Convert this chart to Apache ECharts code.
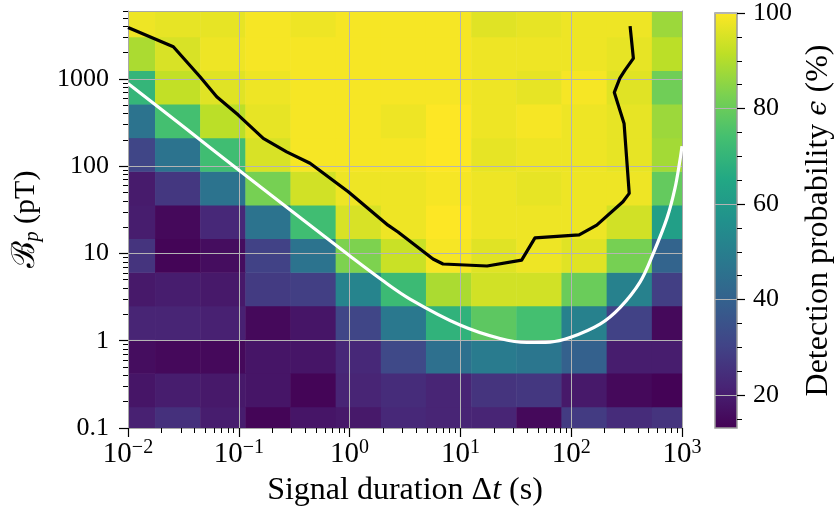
<!DOCTYPE html>
<html>
<head>
<meta charset="utf-8">
<script src="https://cdn.jsdelivr.net/npm/echarts@6/dist/echarts.min.js"></script>
<style>
  html, body { margin: 0; padding: 0; background: #ffffff; }
  #chart { width: 837px; height: 519px; }
</style>
</head>
<body>
<div id="chart"></div>
<script>
// Bin edges of the detection-probability map
const durationEdges = [0.00685, 0.01754, 0.04477, 0.1146, 0.2924, 0.7482, 1.914, 4.887, 12.50, 31.99, 81.66, 208.9, 534.6, 1365]; // s
const fieldEdges = [0.0723, 0.1754, 0.4256, 1.035, 2.512, 6.095, 14.83, 35.97, 87.3, 212.3, 515.2, 1250, 3041, 7379]; // pT

// Detection probability (%), one row per field bin, lowest field first,
// one column per duration bin, shortest first
const probability = [
  [21, 25, 20, 14, 18, 19, 23, 22, 22, 15, 28, 24, 26],
  [18, 20, 19, 18, 14, 22, 24, 22, 26, 27, 19, 15, 13.5],
  [16, 15, 15, 18, 18, 23, 32, 45, 49, 47, 40, 20, 20],
  [22, 22, 21, 15, 18, 31, 48, 69, 78, 74, 51, 30, 15],
  [19, 20, 19, 28, 29, 52, 72, 89, 94, 94, 80, 51, 29],
  [26, 14, 16, 30, 46, 83, 93, 99, 96, 98, 96, 82, 41],
  [20, 15, 23, 46, 73, 95, 98, 100, 98, 98, 98, 94, 62],
  [19.5, 27, 46, 82, 94, 98, 98, 99, 98, 97, 98, 98, 79],
  [31, 46, 73, 95, 99, 99, 99, 100, 97, 98, 98, 97, 88],
  [46, 74, 91, 97, 99, 99, 98, 100, 98, 99, 98, 97, 87],
  [70, 92, 96, 98, 99, 99, 99, 99, 98, 97, 99, 96, 81],
  [89, 95, 98, 99, 99, 99, 99, 99, 98, 98, 98, 97, 91],
  [98, 97, 97, 99, 98, 99, 99, 99, 96, 97, 98, 98, 87]
];

// 95 % detection contour: [duration (s), field (pT)]
const contour95 = [
  [0.01, 3890], [0.02565, 2333], [0.04467, 1057], [0.0632, 624], [0.099, 385],
  [0.1663, 208], [0.2704, 146], [0.4395, 108], [0.973, 50.9], [1.88, 25.2],
  [2.22, 21.1], [2.735, 17.6], [5.66, 8.63], [6.97, 7.57], [17.4, 7.18],
  [35.7, 8.40], [47.1, 15.1], [118, 16.3], [170, 21.1], [293, 39.1],
  [334, 48.8], [300, 309], [245, 700], [275, 1021], [306, 1262],
  [364, 1718], [340, 4027]
];

// Expected sensitivity curve: [duration (s), field (pT)]
const sensitivity = [
  [0.01, 888], [0.03135, 286], [0.0984, 91.4], [0.3567, 25.8], [1.008, 9.33],
  [1.961, 4.96], [3.509, 3.004], [9.92, 1.513], [22.78, 1.06], [39.9, 0.954],
  [64.4, 0.966], [97.5, 1.088], [181.9, 1.553], [275.7, 2.40], [417.8, 4.70],
  [547.3, 9.84], [732, 25.4], [864.8, 56.1], [959, 117.5], [1000, 169.8]
];

// Axis ticks
const durationTicks = [0.01, 0.1, 1, 10, 100, 1000];
const fieldTicks = [0.1, 1, 10, 100, 1000];
const colorTicks = [20, 40, 60, 80, 100];
const colorMinorTicks = [15, 25, 30, 35, 45, 50, 55, 65, 70, 75, 85, 90, 95];

const durationRange = [0.01, 1000];
const fieldRange = [0.1, 6000];
const colorRange = [13.1, 100];

const viridis = ['#440154', '#482475', '#414487', '#355f8d', '#2a788e', '#21918c',
                 '#22a884', '#44bf70', '#7ad151', '#bddf26', '#fde725'];

// Minor log ticks (2..9 within every decade inside the range)
function minorLogTicks(lo, hi) {
  const out = [];
  for (let e = Math.floor(Math.log10(lo)); e <= Math.ceil(Math.log10(hi)); e++) {
    for (let k = 2; k <= 9; k++) {
      const v = k * Math.pow(10, e);
      if (v > lo && v <= hi * 1.0001) out.push(+v.toPrecision(6));
    }
  }
  return out;
}

const serif = "'Liberation Serif', 'DejaVu Serif', serif";
const spine = { show: true, onZero: false, lineStyle: { color: '#a8a8a8', width: 1 } };
const gridLine = { show: true, lineStyle: { color: '#b4b4b4', width: 1 } };
const majorTick = { length: 9, lineStyle: { color: '#000', width: 1.2 } };
const minorTick = { length: 5, lineStyle: { color: '#000', width: 1 } };

const cells = [];
probability.forEach((row, j) => {
  row.forEach((p, i) => {
    cells.push([durationEdges[i], durationEdges[i + 1], fieldEdges[j], fieldEdges[j + 1], p]);
  });
});

function renderCell(params, api) {
  const x0 = Math.max(api.value(0), durationRange[0]);
  const x1 = Math.min(api.value(1), durationRange[1]);
  const y0 = Math.max(api.value(2), fieldRange[0]);
  const y1 = Math.min(api.value(3), fieldRange[1]);
  const a = api.coord([x0, y0]);
  const b = api.coord([x1, y1]);
  return {
    type: 'rect',
    shape: { x: a[0], y: b[1], width: b[0] - a[0] + 0.5, height: a[1] - b[1] + 0.5 },
    style: { fill: api.visual('color') }
  };
}

function renderColorbar(params, api) {
  const a = api.coord([api.value(0), api.value(2)]);
  const b = api.coord([api.value(1), api.value(3)]);
  return {
    type: 'rect',
    shape: { x: a[0], y: b[1], width: b[0] - a[0], height: a[1] - b[1] },
    style: {
      fill: {
        type: 'linear', x: 0, y: 1, x2: 0, y2: 0,
        colorStops: viridis.map((c, k) => ({ offset: k / (viridis.length - 1), color: c }))
      },
      stroke: '#9a9a9a',
      lineWidth: 1.5
    }
  };
}

function decadeLabel(v) {
  const e = Math.round(Math.log10(v));
  return '{b|10}{s|' + (e < 0 ? '\u2212' + (-e) : String(e)) + '}';
}

const chart = echarts.init(document.getElementById('chart'));

chart.setOption({
  animation: false,
  backgroundColor: '#ffffff',
  grid: [
    { left: 128, top: 11, width: 554, height: 417 },
    { left: 715, top: 11, width: 22, height: 417 }
  ],
  visualMap: {
    type: 'continuous', show: false, seriesIndex: 0, dimension: 4,
    min: colorRange[0], max: colorRange[1],
    inRange: { color: viridis }
  },
  xAxis: [
    {
      type: 'log', gridIndex: 0, position: 'bottom', min: durationRange[0], max: durationRange[1], z: 2,
      axisLine: spine,
      axisTick: Object.assign({ customValues: durationTicks }, majorTick),
      splitLine: gridLine,
      axisLabel: {
        customValues: durationTicks, formatter: decadeLabel, margin: 10,
        color: '#000', fontFamily: serif, fontSize: 29,
        rich: {
          b: { fontFamily: serif, fontSize: 29, color: '#000', lineHeight: 32 },
          s: { fontFamily: serif, fontSize: 20, color: '#000', lineHeight: 8, verticalAlign: 'top' }
        }
      },
      name: '{n|Signal duration \u0394}{i|t}{n| (s)}',
      nameLocation: 'middle', nameGap: 47,
      nameTextStyle: {
        fontFamily: serif, fontSize: 32, color: '#000',
        rich: {
          n: { fontFamily: serif, fontSize: 32, color: '#000' },
          i: { fontFamily: serif, fontSize: 32, color: '#000', fontStyle: 'italic' }
        }
      }
    },
    {
      type: 'log', gridIndex: 0, position: 'bottom', min: durationRange[0], max: durationRange[1], z: 2,
      axisLine: { show: false, onZero: false },
      axisTick: Object.assign({ customValues: minorLogTicks(durationRange[0], durationRange[1]) }, minorTick),
      axisLabel: { show: false }, splitLine: { show: false }
    },
    {
      type: 'log', gridIndex: 0, position: 'top', min: durationRange[0], max: durationRange[1], z: 2,
      axisLine: spine, axisTick: { show: false }, axisLabel: { show: false }, splitLine: { show: false }
    },
    { type: 'value', gridIndex: 1, min: 0, max: 1, show: false }
  ],
  yAxis: [
    {
      type: 'log', gridIndex: 0, position: 'left', min: fieldRange[0], max: fieldRange[1], z: 2,
      axisLine: spine,
      axisTick: Object.assign({ customValues: fieldTicks }, majorTick),
      splitLine: gridLine,
      axisLabel: {
        customValues: fieldTicks, margin: 19,
        formatter: v => (v < 1 ? '0.1' : String(Math.round(v))),
        color: '#000', fontFamily: serif, fontSize: 26
      },
      name: '{c|\u212C}{p|p}{n| (pT)}',
      nameLocation: 'middle', nameRotate: 90, nameGap: 85,
      nameTextStyle: {
        fontFamily: serif, fontSize: 30, color: '#000',
        rich: {
          c: { fontFamily: serif, fontSize: 32, color: '#000', lineHeight: 34 },
          p: { fontFamily: serif, fontSize: 20, color: '#000', fontStyle: 'italic', lineHeight: 18, verticalAlign: 'bottom' },
          n: { fontFamily: serif, fontSize: 30, color: '#000', lineHeight: 34 }
        }
      }
    },
    {
      type: 'log', gridIndex: 0, position: 'left', min: fieldRange[0], max: fieldRange[1], z: 2,
      axisLine: { show: false, onZero: false },
      axisTick: Object.assign({ customValues: minorLogTicks(fieldRange[0], fieldRange[1]) }, minorTick),
      axisLabel: { show: false }, splitLine: { show: false }
    },
    {
      type: 'log', gridIndex: 0, position: 'right', min: fieldRange[0], max: fieldRange[1], z: 2,
      axisLine: spine, axisTick: { show: false }, axisLabel: { show: false }, splitLine: { show: false }
    },
    {
      type: 'value', gridIndex: 1, position: 'right', min: colorRange[0], max: colorRange[1], z: 3,
      axisLine: { show: false, onZero: false },
      axisTick: Object.assign({ customValues: colorTicks }, majorTick, { length: 8 }),
      splitLine: gridLine,
      axisLabel: {
        customValues: colorTicks, margin: 16,
        color: '#000', fontFamily: serif, fontSize: 26
      },
      name: '{n|Detection probability }{e|\u03F5}{n| (%)}',
      nameLocation: 'middle', nameRotate: 90, nameGap: 66,
      nameTextStyle: {
        fontFamily: serif, fontSize: 32, color: '#000',
        rich: {
          n: { fontFamily: serif, fontSize: 32, color: '#000' },
          e: { fontFamily: "'DejaVu Serif', serif", fontSize: 27, color: '#000', fontStyle: 'italic' }
        }
      }
    },
    {
      type: 'value', gridIndex: 1, position: 'right', min: colorRange[0], max: colorRange[1], z: 3,
      axisLine: { show: false, onZero: false },
      axisTick: Object.assign({ customValues: colorMinorTicks }, minorTick),
      axisLabel: { show: false }, splitLine: { show: false }
    }
  ],
  series: [
    {
      type: 'custom', xAxisIndex: 0, yAxisIndex: 0, z: 1,
      renderItem: renderCell,
      encode: { x: [0, 1], y: [2, 3] },
      data: cells
    },
    {
      type: 'line', xAxisIndex: 0, yAxisIndex: 0, z: 3,
      data: contour95, showSymbol: false, symbol: 'none',
      lineStyle: { color: '#000', width: 3.2, join: 'round' }
    },
    {
      type: 'line', xAxisIndex: 0, yAxisIndex: 0, z: 3,
      data: sensitivity, showSymbol: false, symbol: 'none', smooth: 0.35,
      lineStyle: { color: '#ffffff', width: 3.2 }
    },
    {
      type: 'custom', xAxisIndex: 3, yAxisIndex: 3, z: 1,
      renderItem: renderColorbar,
      encode: { x: [0, 1], y: [2, 3] },
      data: [[0, 1, colorRange[0], colorRange[1]]]
    }
  ]
});
</script>
</body>
</html>
